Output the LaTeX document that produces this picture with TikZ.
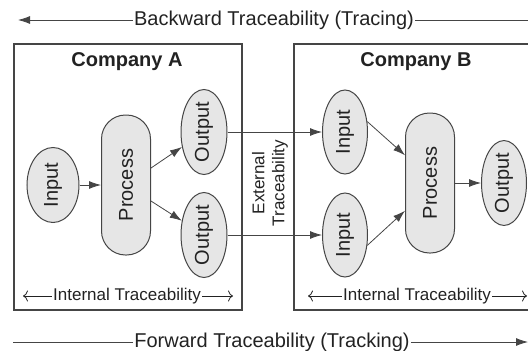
\documentclass[tikz,border=0pt]{standalone}
\usepackage{fontspec}
\setmainfont{Liberation Sans}
\usepackage{tikz}
\usetikzlibrary{shapes.geometric}
\usetikzlibrary{arrows.meta}
\definecolor{linegray}{HTML}{454545}
\definecolor{blobfill}{HTML}{E6E6E6}
\definecolor{inkgray}{HTML}{222222}
\newcommand{\vtext}[1]{\rotatebox{90}{#1}}

\begin{document}
\begin{tikzpicture}[x=1pt, y=-1pt,
    company/.style={draw=linegray, line width=1.2pt},
    blob/.style={ellipse, draw=linegray, fill=blobfill, line width=1pt, inner sep=0pt,
      text=inkgray, font=\fontsize{20}{24}\selectfont},
    procbox/.style={rectangle, rounded corners=24pt, draw=linegray, fill=blobfill,
      line width=1pt, minimum width=49pt, minimum height=140pt,
      text=inkgray, font=\fontsize{20}{24}\selectfont},
    flow/.style={-{Latex[length=12pt,width=8pt]}, draw=linegray, line width=0.8pt},
    bigtext/.style={text=inkgray, inner sep=1pt, font=\fontsize{20}{24}\selectfont},
    smalltext/.style={text=inkgray, inner sep=1pt, font=\fontsize{17}{20}\selectfont},
    inner/.style={-{To[length=5pt,width=11pt]}, draw=inkgray, line width=0.8pt}]
  \useasboundingbox (0,0) rectangle (528,351);

  % backward / forward traceability
  \node [bigtext] (back) at (274,20) {Backward Traceability (Tracing)};
  \coordinate (backL) at (18,20);
  \coordinate (backR) at (528,20);
  \draw [flow] (back.west) -- (backL);
  \draw [draw=linegray, line width=0.8pt] (back.east) -- (backR);
  \node [bigtext] (fwd) at (272,342) {Forward Traceability (Tracking)};
  \coordinate (fwdL) at (13,342);
  \coordinate (fwdR) at (528,342);
  \draw [draw=linegray, line width=0.8pt] (fwd.west) -- (fwdL);
  \draw [flow] (fwd.east) -- (fwdR);

  % company A
  \draw [company] (14,44) rectangle (242,310);
  \node [bigtext, font=\fontsize{20}{24}\selectfont\bfseries] (compA) at (127,62) {Company A};
  \node [blob, minimum width=52pt, minimum height=75pt] (inA) at (53,185) {\vtext{Input}};
  \node [procbox] (procA) at (126,185) {\vtext{Process}};
  \node [blob, minimum width=46pt, minimum height=85pt] (outA1) at (204,132) {\vtext{Output}};
  \node [blob, minimum width=46pt, minimum height=85pt] (outA2) at (204,235) {\vtext{Output}};
  \draw [flow] (inA) -- (procA);
  \draw [flow] (procA) -- (outA1);
  \draw [flow] (procA) -- (outA2);
  \node [smalltext] (intA) at (127,296) {Internal Traceability};
  \coordinate (intAL) at (23,296);
  \coordinate (intAR) at (233,296);
  \draw [inner] (intA.west) -- (intAL);
  \draw [inner] (intA.east) -- (intAR);

  % company B
  \draw [company] (294,44) rectangle (534,310);
  \node [bigtext, font=\fontsize{20}{24}\selectfont\bfseries] (compB) at (416,62) {Company B};
  \node [blob, minimum width=45pt, minimum height=84pt] (inB1) at (345,132) {\vtext{Input}};
  \node [blob, minimum width=45pt, minimum height=84pt] (inB2) at (345,235) {\vtext{Input}};
  \node [procbox] (procB) at (430,183) {\vtext{Process}};
  \node [blob, minimum width=45pt, minimum height=83pt] (outB) at (504,183) {\vtext{Output}};
  \draw [flow] (inB1.25) -- (procB.132);
  \draw [flow] (inB2.-25) -- (procB.228);
  \draw [flow] (procB) -- (outB);
  \node [smalltext] (intB) at (417,296) {Internal Traceability};
  \coordinate (intBL) at (308,296);
  \coordinate (intBR) at (527,296);
  \draw [inner] (intB.west) -- (intBL);
  \draw [inner] (intB.east) -- (intBR);

  % between the companies
  \draw [flow] (outA1) -- (inB1);
  \draw [flow] (outA2) -- (inB2);
  \node [smalltext, rotate=90, align=center, font=\fontsize{17}{20}\selectfont] (ext) at (270,183)
    {External\\Traceability};
\end{tikzpicture}
\end{document}
